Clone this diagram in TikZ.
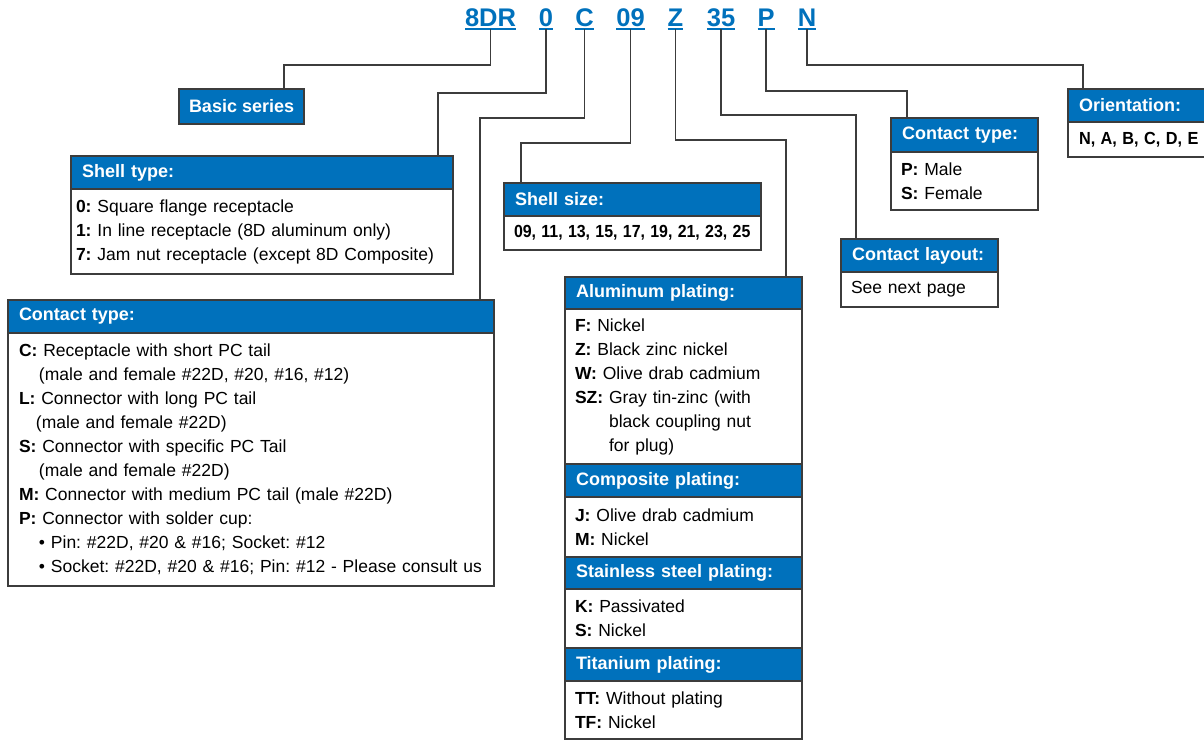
\documentclass[tikz,border=0pt]{standalone}
\usepackage{fontspec}
\setmainfont{Liberation Sans}
\usepackage{graphicx}
\definecolor{hblue}{HTML}{0071BC}
\definecolor{bcol}{HTML}{3C3C3C}
\frenchspacing
\begin{document}
\frenchspacing
\begin{tikzpicture}[x=1pt,y=-1pt,
  box/.style={draw=bcol, line width=1.2pt, anchor=north west, inner ysep=0pt, outer sep=0pt, align=left},
  hdr/.style={box, fill=hblue, text=white, font=\fontsize{18}{22}\selectfont\bfseries\frenchspacing, minimum height=33pt, inner xsep=11pt},
  bdy/.style={box, fill=white, text=black, font=\fontsize{17.5}{24}\selectfont\frenchspacing, inner xsep=10pt},
  code/.style={text=hblue, font=\fontsize{25.5}{28}\selectfont\bfseries, inner xsep=0pt, inner ysep=2.5pt, outer sep=0pt, anchor=base},
  ul/.style={draw=hblue, line width=1.6pt},
  conn/.style={draw=bcol, line width=1.2pt}]
\useasboundingbox (0,0) rectangle (1204,741);

% code letters
\node[code] (c8dr) at (490.5,26.5) {8DR};
\node[code] (c0)   at (546,26.5) {0};
\node[code] (cC)   at (584.5,26.5) {C};
\node[code] (c09)  at (630.5,26.5) {09};
\node[code] (cZ)   at (675.5,26.5) {Z};
\node[code] (c35)  at (721,26.5) {35};
\node[code] (cP)   at (766,26.5) {P};
\node[code] (cN)   at (807,26.5) {N};
\foreach \n in {c8dr,c0,cC,c09,cZ,c35,cP,cN}{
  \draw[ul] (\n.south west) -- (\n.south east);
}

% Basic series
\node[hdr, minimum width=121pt, minimum height=35pt, inner xsep=10pt] (bs) at (179,89) {Basic series};

% Shell type
\node[hdr, text width=360pt] (stH) at (71,156) {Shell type:};
\node[bdy, text width=372pt, inner xsep=5pt, minimum height=85pt] (stB) at (stH.south west)
 {\textbf{0:} Square flange receptacle\\
  \textbf{1:} In line receptacle (8D aluminum only)\\
  \textbf{7:} Jam nut receptacle (except 8D Composite)};

% Contact type (left)
\node[hdr, text width=464pt, minimum height=33pt] (ctH) at (8,300) {Contact type:};
\node[bdy, text width=464pt, inner xsep=11pt, minimum height=253pt] (ctB) at (ctH.south west)
 {\textbf{C:} Receptacle with short PC tail\\
  \hspace*{20pt}(male and female \#22D, \#20, \#16, \#12)\\
  \textbf{L:} Connector with long PC tail\\
  \hspace*{17pt}(male and female \#22D)\\
  \textbf{S:} Connector with specific PC Tail\\
  \hspace*{20pt}(male and female \#22D)\\
  \textbf{M:} Connector with medium PC tail (male \#22D)\\
  \textbf{P:} Connector with solder cup:\\
  \hspace*{20pt}\textbullet\ Pin: \#22D, \#20 \& \#16; Socket: \#12\\
  \hspace*{20pt}\textbullet\ Socket: \#22D, \#20 \& \#16; Pin: \#12 - Please consult us};

% Shell size
\node[hdr, text width=235pt] (ssH) at (504,183) {Shell size:};
\node[bdy, text width=237pt, minimum height=34pt] (ssB) at (ssH.south west)
 {\scalebox{0.91}[1]{\bfseries 09, 11, 13, 15, 17, 19, 21, 23, 25}};

% Plating
\node[hdr, text width=215pt, minimum height=32pt] (alH) at (565,277) {Aluminum plating:};
\node[bdy, text width=217pt, minimum height=155pt] (alB) at (alH.south west)
 {\textbf{F:} Nickel\\
  \textbf{Z:} Black zinc nickel\\
  \textbf{W:} Olive drab cadmium\\
  \textbf{SZ:} Gray tin-zinc (with\\
  \phantom{\textbf{SZ:} }black coupling nut\\
  \phantom{\textbf{SZ:} }for plug)};
\node[hdr, text width=215pt, minimum height=33pt] (coH) at (alB.south west) {Composite plating:};
\node[bdy, text width=217pt, minimum height=60pt] (coB) at (coH.south west)
 {\textbf{J:} Olive drab cadmium\\
  \textbf{M:} Nickel};
\node[hdr, text width=215pt, minimum height=32pt] (sxH) at (coB.south west) {Stainless steel plating:};
\node[bdy, text width=217pt, minimum height=59pt] (sxB) at (sxH.south west)
 {\textbf{K:} Passivated\\
  \textbf{S:} Nickel};
\node[hdr, text width=215pt, minimum height=33pt] (tiH) at (sxB.south west) {Titanium plating:};
\node[bdy, text width=217pt, minimum height=58pt] (tiB) at (tiH.south west)
 {\textbf{TT:} Without plating\\
  \textbf{TF:} Nickel};

% Contact layout
\node[hdr, text width=135pt] (clH) at (841,239) {Contact layout:};
\node[bdy, text width=137pt, minimum height=35pt] (clB) at (clH.south west) {See next page};

% Contact type (right)
\node[hdr, text width=125pt, minimum height=34pt] (c2H) at (891,118) {Contact type:};
\node[bdy, text width=127pt, minimum height=58pt] (c2B) at (c2H.south west)
 {\textbf{P:} Male\\
  \textbf{S:} Female};

% Orientation
\node[hdr, text width=128pt] (orH) at (1068,89) {Orientation:};
\node[bdy, text width=129pt, inner xsep=11pt, minimum height=35pt] (orB) at (orH.south west)
 {\scalebox{0.93}[1]{\bfseries N, A, B, C, D, E}};

% bend points
\coordinate (k8) at (284,65);
\coordinate (k0) at (438,93);
\coordinate (kC) at (480,118);
\coordinate (k09) at (521,143);
\coordinate (kZ) at (786,140);
\coordinate (k35) at (856,115);
\coordinate (kP) at (907,91);
\coordinate (kN) at (1083,65);

% connectors
\draw[conn] (c8dr.south) |- (k8) -- (k8 |- bs.north);
\draw[conn] (c0.south) |- (k0) -- (k0 |- stH.north);
\draw[conn] (cC.south) |- (kC) -- (kC |- ctH.north);
\draw[conn] (c09.south) |- (k09) -- (k09 |- ssH.north);
\draw[conn] (cZ.south) |- (kZ) -- (kZ |- alH.north);
\draw[conn] (c35.south) |- (k35) -- (k35 |- clH.north);
\draw[conn] (cP.south) |- (kP) -- (kP |- c2H.north);
\draw[conn] (cN.south) |- (kN) -- (kN |- orH.north);
\end{tikzpicture}
\end{document}
